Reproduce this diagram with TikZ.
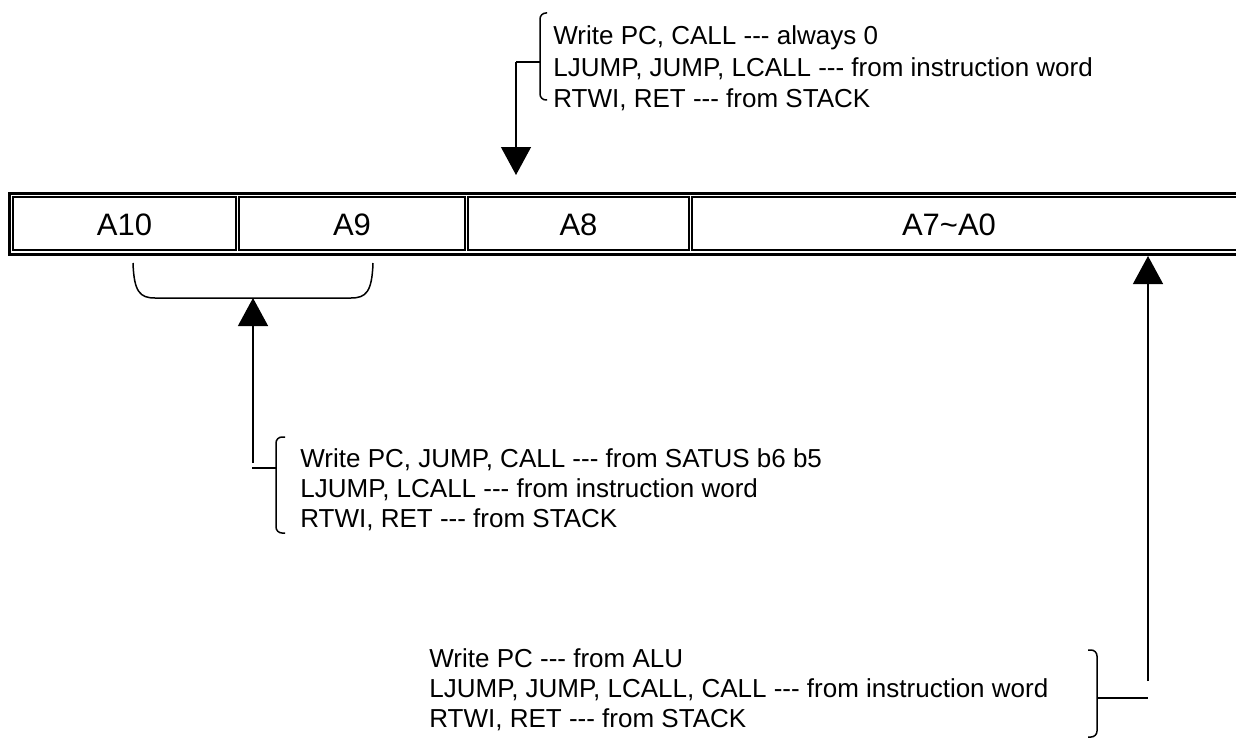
\documentclass[tikz,border=0pt]{standalone}
\usepackage{fontspec}
\setmainfont{Liberation Sans}
\usetikzlibrary{arrows.meta}
\newcommand\tridash{-\kern0pt-\kern0pt-}

\begin{document}
\begin{tikzpicture}[x=0.5pt,y=-0.5pt,line join=miter,
  >={Triangle[width=15pt,length=14pt]},
  cell/.style={font=\fontsize{15.5pt}{18pt}\selectfont,inner sep=0pt},
  note/.style={font=\fontsize{13pt}{#1}\selectfont,align=left,inner sep=0pt,anchor=north west},
  thinline/.style={line width=0.65pt},
  brace/.style={line width=0.75pt,rounded corners=3pt}]
  \useasboundingbox (0,0) rectangle (1236,738);
  % register: outer frame and cells
  \draw[line width=1.6pt] (1260,193.5) -- (9.5,193.5) -- (9.5,254.5) -- (1260,254.5);
  \draw[thinline] (13,197) rectangle (236,250);
  \draw[thinline] (239,197) rectangle (465,250);
  \draw[thinline] (468,197) rectangle (689,250);
  \draw[thinline] (692,197) rectangle (1260,250);
  \node[cell] (a10) at (124.5,225) {A10};
  \node[cell] (a9) at (352,225) {A9};
  \node[cell] (a8) at (578.5,225) {A8};
  \node[cell] (a70) at (949,225) {A7\textasciitilde A0};
  % top note, into A8
  \node[note=15.75pt] (topnote) at (553,25.5) {Write PC, CALL \tridash{} always 0\\LJUMP, JUMP, LCALL \tridash{} from instruction word\\RTWI, RET \tridash{} from STACK};
  \draw[brace] (547,13) -- (540,13) -- (540,100) -- (547,100);
  \coordinate (topfork) at (516,62);
  \coordinate (toptip) at (516,175);
  \draw[thinline] (540,62) -- (topfork);
  \draw[thinline,->] (topfork) -- (toptip);
  % bracket under A10 and A9
  \draw[line width=0.75pt] (133,263) .. controls (134,292) and (140,298) .. (155,298) -- (351,298) .. controls (366,298) and (372,292) .. (373,263);
  \coordinate (midtip) at (253,298);
  \coordinate (midend) at (253,463);
  \coordinate (midfork) at (252,468);
  \draw[thinline,->] (midend) -- (midtip);
  \node[note=15pt] (midnote) at (300,448.5) {Write PC, JUMP, CALL \tridash{} from SATUS b6 b5\\LJUMP, LCALL \tridash{} from instruction word\\RTWI, RET \tridash{} from STACK};
  \draw[brace] (285,437) -- (276,437) -- (276,533) -- (285,533);
  \draw[thinline] (midfork) -- (276,468);
  % bottom note, into A7~A0
  \node[note=15pt] (lownote) at (429,648.5) {Write PC \tridash{} from ALU\\LJUMP, JUMP, LCALL, CALL \tridash{} from instruction word\\RTWI, RET \tridash{} from STACK};
  \draw[brace] (1088,650) -- (1097,650) -- (1097,737) -- (1088,737);
  \coordinate (lowtip) at (1148,256);
  \coordinate (lowend) at (1148,681);
  \coordinate (lowfork) at (1148,698);
  \draw[thinline,->] (lowend) -- (lowtip);
  \draw[thinline] (1097,698) -- (lowfork);
\end{tikzpicture}
\end{document}
